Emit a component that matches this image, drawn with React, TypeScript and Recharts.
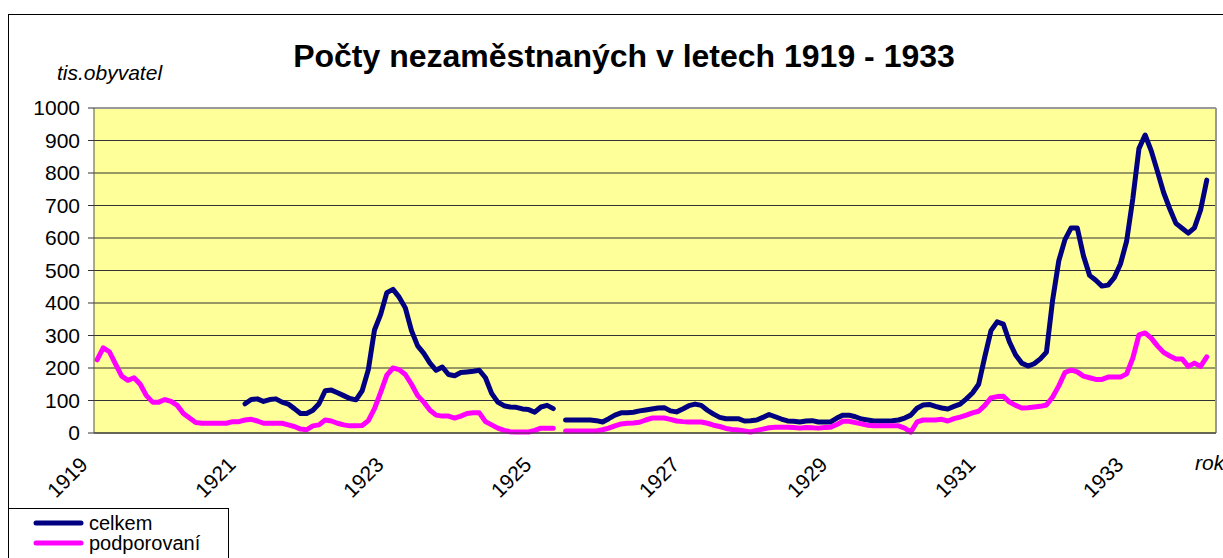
import { CartesianGrid, Line, LineChart, ReferenceLine, XAxis, YAxis } from "recharts";

// monthly values, Jan 1919 (index 0) .. Jan 1934 (index 180), thousands of people
const CELKEM: (number | null)[] = [
  null, null, null, null, null, null, null, null, null, null,
  null, null, null, null, null, null, null, null, null, null,
  null, null, null, null, 90, 103, 105, 97, 103, 105,
  95, 89, 75, 60, 60, 70, 90, 130, 132, 124,
  115, 106, 102, 130, 195, 317, 365, 432, 442, 418,
  385, 315, 268, 245, 215, 193, 203, 180, 176, 186,
  188, 190, 193, 170, 122, 95, 84, 80, 79, 74,
  72, 64, 80, 85, 75, null, 40, 40, 40, 40,
  40, 38, 34, 44, 55, 62, 62, 64, 68, 71,
  74, 77, 78, 68, 65, 74, 84, 89, 85, 70,
  58, 48, 44, 44, 44, 37, 38, 40, 48, 57,
  50, 43, 37, 36, 34, 37, 38, 34, 34, 34,
  46, 55, 55, 50, 43, 40, 37, 37, 37, 38,
  40, 46, 55, 76, 86, 88, 82, 77, 74, 82,
  89, 105, 123, 150, 235, 315, 342, 335, 280, 240,
  215, 206, 213, 228, 249, 409, 530, 595, 631, 631,
  545, 485, 470, 452, 455, 478, 520, 590, 720, 875,
  917, 868, 805, 740, 690, 645, 630, 615, 631, 686, 778,
];

const PODPOROVANI: (number | null)[] = [
  225, 262, 250, 212, 175, 162, 170, 150, 115, 95,
  95, 103, 97, 85, 60, 46, 32, 30, 30, 30,
  30, 30, 35, 35, 40, 42, 37, 30, 30, 30,
  30, 25, 20, 12, 10, 22, 25, 40, 37, 30,
  25, 22, 22, 23, 38, 75, 125, 178, 200, 195,
  180, 150, 115, 95, 70, 55, 52, 52, 46, 52,
  60, 62, 62, 35, 25, 15, 8, 4, 3, 3,
  3, 8, 15, 15, 15, null, 6, 6, 6, 6,
  6, 6, 10, 15, 22, 28, 30, 31, 33, 40,
  46, 46, 46, 42, 37, 35, 34, 34, 34, 30,
  24, 20, 14, 11, 9, 6, 3, 8, 12, 16,
  18, 18, 18, 17, 15, 17, 16, 15, 17, 18,
  26, 36, 36, 32, 28, 24, 22, 22, 22, 22,
  22, 15, 3, 34, 40, 40, 40, 42, 37, 44,
  49, 55, 62, 67, 85, 108, 112, 113, 95, 85,
  77, 78, 80, 82, 86, 111, 145, 186, 194, 188,
  175, 170, 165, 165, 172, 172, 172, 182, 230, 302,
  308, 292, 268, 248, 237, 228, 228, 205, 215, 205, 234,
];

const YEAR_LABELS = [1919, 1921, 1923, 1925, 1927, 1929, 1931, 1933];
const Y_TICKS = [0, 100, 200, 300, 400, 500, 600, 700, 800, 900, 1000];

const SERIES = [
  { key: "celkem", name: "celkem", color: "#000080" },
  { key: "podporovani", name: "podporovaní", color: "#FF00FF" },
];

const FONT = "Arial, 'Liberation Sans', sans-serif";

const data = CELKEM.map((c, i) => ({ m: i, celkem: c, podporovani: PODPOROVANI[i] }));
// month index of the tick boundary for each labelled year
const xTicks = YEAR_LABELS.map((y) => (y - 1919) * 12 - 0.5);

function YearTick(props: any) {
  const { x, y, payload } = props;
  const year = 1919 + Math.round((payload.value + 0.5) / 12);
  return (
    <text
      x={0}
      y={0}
      transform={`translate(${x - 5},${y + 33}) rotate(-45)`}
      textAnchor="end"
      fontSize={21}
      fontFamily={FONT}
      fill="#000"
    >
      {year}
    </text>
  );
}

function LegendBox() {
  return (
    <div
      style={{
        position: "absolute",
        left: 8,
        top: 508,
        width: 221,
        height: 60,
        border: "1px solid #000",
        borderBottom: "none",
        background: "#fff",
        boxSizing: "border-box",
        paddingTop: 4,
        fontFamily: FONT,
        fontSize: 20,
        lineHeight: "20px",
      }}
    >
      {SERIES.map((s) => (
        <div key={s.key} style={{ display: "flex", alignItems: "center", height: 20 }}>
          <svg width={80} height={20} style={{ flex: "none" }}>
            <line x1={27} y1={10} x2={72} y2={10} stroke={s.color} strokeWidth={5} strokeLinecap="round" />
          </svg>
          <span style={{ color: "#000" }}>{s.name}</span>
        </div>
      ))}
    </div>
  );
}

export default function App() {
  return (
    <div
      style={{
        position: "fixed",
        left: 0,
        top: 0,
        width: 1223,
        height: 558,
        overflow: "hidden",
        background: "#fff",
      }}
    >
      <div
        style={{
          position: "absolute",
          left: 8,
          top: 14,
          width: 1400,
          height: 700,
          borderLeft: "1px solid #000",
          borderTop: "1px solid #000",
        }}
      />
      <div style={{ position: "absolute", left: 8, top: 8 }}>
        <LineChart
          width={1215}
          height={550}
          data={data}
          margin={{ top: 100, right: 7, bottom: 65, left: 0 }}
        >
          <CartesianGrid vertical={false} fill="#FFFF99" stroke="#333" strokeWidth={1} />
          <XAxis
            dataKey="m"
            type="number"
            domain={[-0.5, 181.5]}
            ticks={xTicks}
            interval={0}
            height={60}
            tickSize={0}
            tickMargin={0}
            tickLine={false}
            axisLine={{ stroke: "#333" }}
            tick={<YearTick />}
          />
          <YAxis
            domain={[0, 1000]}
            ticks={Y_TICKS}
            interval={0}
            width={86}
            tickSize={6}
            tickMargin={8}
            axisLine={{ stroke: "#555" }}
            tickLine={{ stroke: "#333" }}
            tick={{ fontSize: 21, fill: "#000", fontFamily: FONT }}
          />
          <ReferenceLine y={1000} stroke="#999" strokeWidth={2} />
          <ReferenceLine x={181.5} stroke="#999" strokeWidth={2} />
          {SERIES.map((s) => (
            <Line
              key={s.key}
              type="linear"
              dataKey={s.key}
              name={s.name}
              stroke={s.color}
              strokeWidth={5}
              strokeLinejoin="round"
              strokeLinecap="round"
              dot={false}
              activeDot={false}
              isAnimationActive={false}
            />
          ))}
        </LineChart>
      </div>
      <LegendBox />
      <svg
        width={1223}
        height={558}
        style={{ position: "absolute", left: 0, top: 0, pointerEvents: "none" }}
      >
        <text x={624} y={67} textAnchor="middle" fontSize={32} fontWeight="bold" fontFamily={FONT} fill="#000">
          Počty nezaměstnaných v letech 1919 - 1933
        </text>
        <text x={57} y={80} fontSize={21} fontStyle="italic" fontFamily={FONT} fill="#000">
          tis.obyvatel
        </text>
        <text x={1195} y={470} fontSize={21} fontStyle="italic" fontFamily={FONT} fill="#000">
          rok
        </text>
      </svg>
    </div>
  );
}
